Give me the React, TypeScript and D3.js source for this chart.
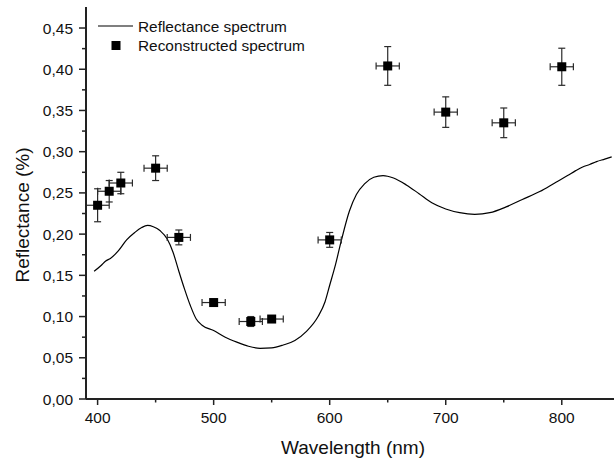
import React from "react";
import * as d3 from "d3";

const curveWavelength = [397, 403, 407, 411, 418, 425, 432, 438, 443, 448, 454, 460, 465, 470, 475, 480, 485, 490, 500, 510, 520, 530, 540, 550, 560, 570, 580, 590, 596, 600, 605, 610, 617, 623, 630, 638, 646, 655, 666, 677, 688, 700, 712, 725, 738, 752, 766, 781, 795, 805, 812, 818, 824, 830, 837, 843];
const curveReflectance = [0.155, 0.162, 0.1675, 0.1705, 0.18, 0.193, 0.202, 0.208, 0.2105, 0.209, 0.204, 0.194, 0.178, 0.155, 0.133, 0.113, 0.097, 0.0895, 0.083, 0.075, 0.069, 0.064, 0.0615, 0.062, 0.0655, 0.071, 0.082, 0.1, 0.118, 0.138, 0.163, 0.192, 0.228, 0.248, 0.261, 0.269, 0.271, 0.268, 0.2597, 0.249, 0.238, 0.2305, 0.226, 0.224, 0.226, 0.233, 0.242, 0.2516, 0.263, 0.271, 0.277, 0.2815, 0.2845, 0.288, 0.291, 0.2937];

const pointWavelength = [400, 410, 420, 450, 470, 500, 532, 550, 600, 650, 700, 750, 800];
const pointReflectance = [0.235, 0.252, 0.262, 0.28, 0.196, 0.117, 0.094, 0.097, 0.193, 0.404, 0.348, 0.335, 0.403];
const pointYErr = [0.02, 0.013, 0.013, 0.015, 0.009, 0.004, 0.006, 0.003, 0.009, 0.0235, 0.0185, 0.018, 0.0225];
const pointXErr = [10, 10, 10, 10, 10, 10, 10, 10, 10, 10, 10, 10, 10];

const xMajorTicks = [400, 500, 600, 700, 800];
const xMinorTicks = [450, 550, 650, 750];
const yMajorTicks = [0, 0.05, 0.1, 0.15, 0.2, 0.25, 0.3, 0.35, 0.4, 0.45];
const yMinorTicks = [0.025, 0.075, 0.125, 0.175, 0.225, 0.275, 0.325, 0.375, 0.425];

const legendLabels = ["Reflectance spectrum", "Reconstructed spectrum"];

const FONT = "'Liberation Sans', Arial, sans-serif";

export default function App() {
  const W = 614;
  const H = 467;
  const left = 86;
  const right = 614;
  const top = 7;
  const bottom = 399;

  const x = d3.scaleLinear().domain([390, 845]).range([left, right]);
  const y = d3.scaleLinear().domain([0, 0.4755]).range([bottom, top]);

  const curveData = curveWavelength.map((w, i) => [w, curveReflectance[i]] as [number, number]);
  const line = d3
    .line<[number, number]>()
    .x((d) => x(d[0]))
    .y((d) => y(d[1]))
    .curve(d3.curveMonotoneX);

  const fmt = (v: number) => v.toFixed(2).replace(".", ",");
  const cap = 3.5;
  const sq = 9;

  return (
    <svg width={W} height={H} style={{ position: "absolute", left: 0, top: 0, background: "#fff" }} fontFamily={FONT}>
      <rect x={0} y={0} width={W} height={H} fill="#fff" />
      {/* curve */}
      <path d={line(curveData) || ""} fill="none" stroke="#000" strokeWidth={1.2} />

      {/* error bars & points */}
      {pointWavelength.map((w, i) => {
        const cx = x(w);
        const cy = y(pointReflectance[i]);
        const y1 = y(pointReflectance[i] + pointYErr[i]);
        const y2 = y(pointReflectance[i] - pointYErr[i]);
        const x1 = x(w - pointXErr[i]);
        const x2 = x(w + pointXErr[i]);
        return (
          <g key={i} stroke="#2a2a2a" strokeWidth={1.2}>
            <line x1={cx} x2={cx} y1={y1} y2={y2} />
            <line x1={cx - cap} x2={cx + cap} y1={y1} y2={y1} />
            <line x1={cx - cap} x2={cx + cap} y1={y2} y2={y2} />
            <line x1={x1} x2={x2} y1={cy} y2={cy} />
            <line x1={x1} x2={x1} y1={cy - cap} y2={cy + cap} />
            <line x1={x2} x2={x2} y1={cy - cap} y2={cy + cap} />
            <rect x={cx - sq / 2} y={cy - sq / 2} width={sq} height={sq} fill="#000" stroke="none" />
          </g>
        );
      })}

      {/* axes */}
      <line x1={left} x2={right} y1={bottom} y2={bottom} stroke="#222" strokeWidth={2} />
      <line x1={left} x2={left} y1={top} y2={bottom} stroke="#222" strokeWidth={2} />

      {xMajorTicks.map((t) => (
        <g key={"xm" + t}>
          <line x1={x(t)} x2={x(t)} y1={bottom} y2={bottom + 6} stroke="#222" strokeWidth={1.5} />
          <text x={x(t)} y={bottom + 24} textAnchor="middle" fontSize={15.5} fill="#111">
            {t}
          </text>
        </g>
      ))}
      {xMinorTicks.map((t) => (
        <line key={"xn" + t} x1={x(t)} x2={x(t)} y1={bottom} y2={bottom + 3.5} stroke="#222" strokeWidth={1.5} />
      ))}
      {yMajorTicks.map((t) => (
        <g key={"ym" + t}>
          <line x1={left - 7} x2={left} y1={y(t)} y2={y(t)} stroke="#222" strokeWidth={1.5} />
          <text x={left - 13} y={y(t) + 5.5} textAnchor="end" fontSize={15.5} fill="#111">
            {fmt(t)}
          </text>
        </g>
      ))}
      {yMinorTicks.map((t) => (
        <line key={"yn" + t} x1={left - 4} x2={left} y1={y(t)} y2={y(t)} stroke="#222" strokeWidth={1.5} />
      ))}

      {/* axis titles */}
      <text x={353} y={454} textAnchor="middle" fontSize={19} fill="#111">
        Wavelength (nm)
      </text>
      <text
        transform={`translate(29, 215) rotate(-90)`}
        textAnchor="middle"
        fontSize={19}
        fill="#111"
      >
        Reflectance (%)
      </text>

      {/* legend */}
      <line x1={98} x2={133} y1={26} y2={26} stroke="#000" strokeWidth={1.2} />
      <text x={138} y={31.5} fontSize={15.4} fill="#111">
        {legendLabels[0]}
      </text>
      <rect x={116 - sq / 2} y={45.5 - sq / 2} width={sq} height={sq} fill="#000" />
      <text x={138} y={51} fontSize={15.4} fill="#111">
        {legendLabels[1]}
      </text>
    </svg>
  );
}
